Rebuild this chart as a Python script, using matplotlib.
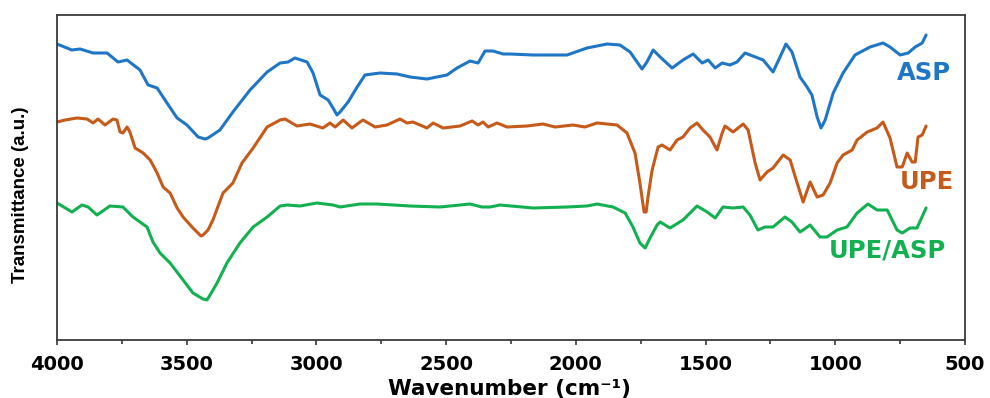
import matplotlib
matplotlib.use("Agg")
import matplotlib.pyplot as plt
from matplotlib.ticker import MultipleLocator

# FTIR spectra: wavenumber (cm-1) and stacked transmittance (a.u.)
asp_wn = [4000, 3943, 3911, 3861, 3807, 3765, 3730, 3680, 3649, 3614, 3576, 3537,
          3499, 3456, 3430, 3418, 3372, 3322, 3256, 3190, 3140, 3109, 3083, 3036,
          3013, 2986, 2955, 2936, 2921, 2909, 2878, 2843, 2813, 2755, 2689, 2639,
          2574, 2497, 2458, 2408, 2377, 2350, 2319, 2281, 2254, 2165, 2034, 1957,
          1880, 1830, 1791, 1764, 1745, 1726, 1702, 1675, 1629, 1587, 1548, 1513,
          1490, 1463, 1436, 1406, 1379, 1348, 1278, 1240, 1213, 1190, 1167, 1136,
          1109, 1090, 1070, 1055, 1039, 1008, 970, 924, 866, 816, 789, 750, 719,
          692, 665, 650]
asp_t = [296, 290, 291, 287, 287, 278, 280, 270, 255, 252, 237, 222,
         215, 203, 201, 202, 210, 228, 250, 268, 277, 278, 282, 278,
         267, 245, 240, 232, 225, 228, 238, 253, 265, 267, 266, 263,
         261, 265, 272, 279, 277, 289, 289, 286, 286, 285, 285, 292,
         296, 295, 288, 278, 271, 278, 290, 283, 272, 280, 286, 277,
         280, 272, 277, 275, 278, 287, 280, 268, 283, 296, 288, 263,
         253, 245, 223, 212, 220, 247, 267, 285, 293, 297, 293, 285, 287,
         293, 297, 305]

upe_wn = [4000, 3969, 3923, 3884, 3861, 3842, 3815, 3784, 3769, 3757, 3746, 3730,
          3719, 3699, 3668, 3641, 3614, 3591, 3564, 3537, 3514, 3476, 3445, 3437,
          3418, 3399, 3360, 3322, 3287, 3244, 3190, 3140, 3121, 3075, 3025, 2975,
          2948, 2928, 2897, 2863, 2832, 2820, 2774, 2728, 2678, 2651, 2628, 2574,
          2550, 2512, 2446, 2400, 2377, 2358, 2338, 2304, 2265, 2188, 2127, 2080,
          2011, 1965, 1918, 1841, 1803, 1772, 1753, 1737, 1729, 1722, 1706, 1683,
          1668, 1637, 1610, 1587, 1560, 1533, 1510, 1483, 1456, 1436, 1425, 1394,
          1355, 1336, 1309, 1290, 1263, 1240, 1201, 1174, 1147, 1124, 1097, 1070,
          1047, 1020, 993, 970, 935, 916, 877, 839, 816, 789, 762, 742, 723, 704,
          692, 681, 665, 650]
upe_t = [218, 220, 222, 221, 217, 221, 215, 221, 220, 208, 207, 213,
         208, 192, 187, 180, 167, 153, 147, 132, 123, 112, 104, 105,
         110, 120, 147, 157, 177, 192, 213, 220, 221, 214, 216, 212,
         217, 213, 220, 212, 218, 220, 213, 215, 221, 217, 218, 212,
         217, 212, 214, 219, 215, 218, 213, 217, 213, 214, 216, 213,
         215, 213, 217, 215, 207, 187, 157, 128, 128, 143, 170, 193,
         195, 190, 200, 203, 212, 217, 210, 203, 190, 207, 214, 208,
         216, 210, 177, 160, 168, 172, 185, 180, 157, 138, 158, 143,
         145, 157, 177, 185, 190, 200, 208, 212, 218, 202, 173, 173, 187, 178,
         178, 203, 205, 214]

mix_wn = [4000, 3942, 3904, 3880, 3846, 3796, 3746, 3707, 3653, 3630, 3603, 3564,
          3514, 3476, 3437, 3422, 3410, 3383, 3345, 3295, 3244, 3190, 3140, 3113,
          3063, 2998, 2936, 2909, 2832, 2766, 2639, 2524, 2408, 2362, 2331, 2292,
          2165, 2034, 1957, 1918, 1857, 1810, 1780, 1753, 1733, 1714, 1687, 1675,
          1637, 1587, 1533, 1494, 1463, 1433, 1394, 1355, 1329, 1298, 1271, 1240,
          1194, 1167, 1136, 1124, 1097, 1059, 1032, 993, 955, 916, 874, 839, 800,
          762, 742, 712, 685, 650]
mix_t = [137, 128, 135, 133, 125, 134, 133, 123, 113, 98, 87, 77,
         60, 47, 41, 40, 45, 57, 77, 97, 113, 123, 134, 135,
         134, 137, 135, 133, 136, 136, 134, 133, 136, 133, 133, 135,
         132, 133, 134, 136, 133, 127, 113, 97, 92, 102, 115, 118,
         112, 120, 134, 128, 122, 133, 132, 133, 125, 110, 113, 113,
         123, 118, 108, 110, 115, 103, 103, 110, 113, 127, 136, 130, 130,
         110, 107, 112, 112, 132]

series = [
    ("ASP", asp_wn, asp_t, "#1f76c6", (658, 260)),
    ("UPE", upe_wn, upe_t, "#c55a1a", (646, 151)),
    ("UPE/ASP", mix_wn, mix_t, "#12b050", (800, 82)),
]

fig = plt.figure(figsize=(9.9, 3.98), dpi=100)
ax = fig.add_axes([57 / 990, 58 / 398, 908 / 990, 325 / 398])

for name, wn, t, color, (lx, ly) in series:
    ax.plot(wn, t, color=color, lw=2.2, solid_joinstyle="round",
            solid_capstyle="round")
    ax.text(lx, ly, name, color=color, fontsize=17.5, fontweight="bold",
            family="DejaVu Sans", ha="center", va="baseline")

ax.set_xlim(4000, 500)
ax.set_ylim(0, 325)
ax.xaxis.set_major_locator(MultipleLocator(500))
ax.xaxis.set_minor_locator(MultipleLocator(250))
ax.set_yticks([])
ax.tick_params(axis="x", which="major", direction="out", length=3.5, width=1.2,
               color="#3a3a3a", pad=7, labelsize=14)
ax.tick_params(axis="x", which="minor", direction="out", length=3, width=1.2,
               color="#3a3a3a")
for lab in ax.get_xticklabels():
    lab.set_fontweight("bold")
    lab.set_family("DejaVu Sans")

for sp in ax.spines.values():
    sp.set_color("#3a3a3a")
    sp.set_linewidth(1.3)

fig.text(510 / 990, 1 - 395 / 398, "Wavenumber (cm\u207b\u00b9)",
         fontsize=15.5, fontweight="bold", family="DejaVu Sans",
         ha="center", va="baseline")
fig.text(21 / 990, 1 - 195 / 398, "Transmittance (a.u.)", rotation=90,
         fontsize=13.5, fontweight="bold", family="Liberation Sans",
         ha="center", va="center")

fig.savefig("out.png", dpi=100)
